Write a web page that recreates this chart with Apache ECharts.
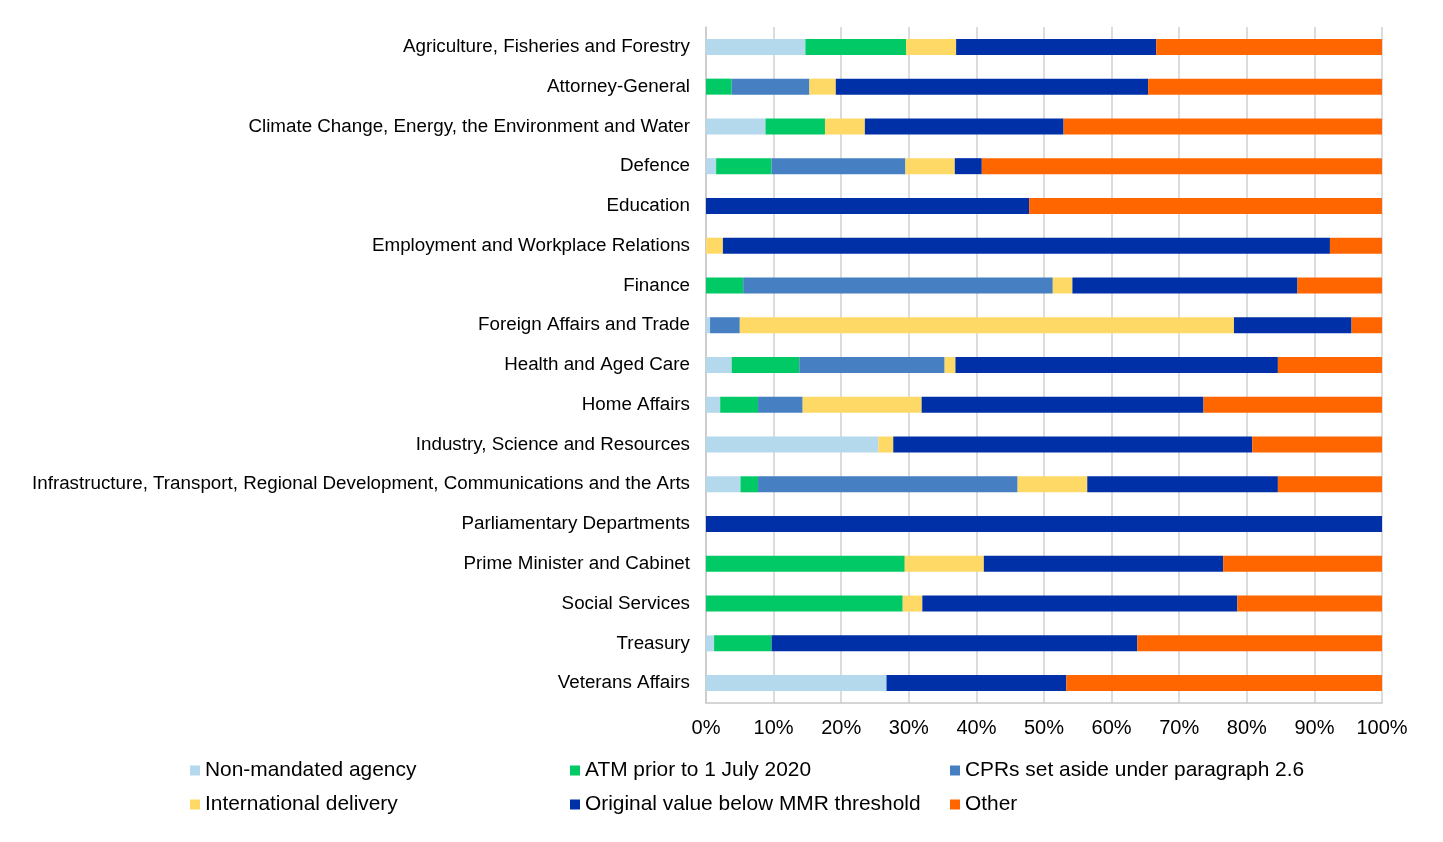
<!DOCTYPE html>
<html lang="en">
<head>
    <meta charset="UTF-8">
    <title>Procurement exemptions by portfolio</title>
    <script src="https://cdn.jsdelivr.net/npm/echarts@6/dist/echarts.min.js"></script>
    <style>
        html, body { margin: 0; padding: 0; background: #fff; }
    </style>
</head>
<body>
<div id="main" style="width: 1443px;height: 842px;"></div>
<script>
    // portfolios, top to bottom
    var categories = [
        'Agriculture, Fisheries and Forestry',
        'Attorney-General',
        'Climate Change, Energy, the Environment and Water',
        'Defence',
        'Education',
        'Employment and Workplace Relations',
        'Finance',
        'Foreign Affairs and Trade',
        'Health and Aged Care',
        'Home Affairs',
        'Industry, Science and Resources',
        'Infrastructure, Transport, Regional Development, Communications and the Arts',
        'Parliamentary Departments',
        'Prime Minister and Cabinet',
        'Social Services',
        'Treasury',
        'Veterans Affairs'
    ];

    // share of each reason (%), same order as categories
    var nonMandated = [14.7, 0, 8.8, 1.5, 0, 0, 0, 0.6, 3.8, 2.1, 25.5, 5.1, 0, 0, 0, 1.2, 26.7];
    var atmPrior    = [14.9, 3.8, 8.8, 8.2, 0, 0, 5.5, 0, 10.0, 5.6, 0, 2.6, 0, 29.4, 29.1, 8.5, 0];
    var cprsAside   = [0, 11.5, 0, 19.8, 0, 0, 45.8, 4.4, 21.5, 6.6, 0, 38.4, 0, 0, 0, 0, 0];
    var intlDeliv   = [7.4, 3.9, 5.9, 7.3, 0, 2.5, 2.9, 73.1, 1.6, 17.6, 2.2, 10.3, 0, 11.7, 2.9, 0, 0];
    var belowMmr    = [29.6, 46.2, 29.4, 4.0, 47.8, 89.8, 33.3, 17.4, 47.7, 41.7, 53.1, 28.2, 100, 35.4, 46.6, 54.1, 26.6];
    var other       = [33.4, 34.6, 47.1, 59.2, 52.2, 7.7, 12.5, 4.5, 15.4, 26.4, 19.2, 15.4, 0, 23.5, 21.4, 36.2, 46.7];

    var xTicks = [0, 10, 20, 30, 40, 50, 60, 70, 80, 90, 100];

    var seriesNames = [
        'Non-mandated agency',
        'ATM prior to 1 July 2020',
        'CPRs set aside under paragraph 2.6',
        'International delivery',
        'Original value below MMR threshold',
        'Other'
    ];
    var seriesValues = [nonMandated, atmPrior, cprsAside, intlDeliv, belowMmr, other];
    var colors = ['#B4D8EC', '#00C965', '#4680C2', '#FFD966', '#0030A8', '#FF6600'];

    // legend laid out in 3 columns x 2 rows
    var legendPos = [
        {left: 190, top: 760}, {left: 570, top: 760}, {left: 950, top: 760},
        {left: 190, top: 794}, {left: 570, top: 794}, {left: 950, top: 794}
    ];

    var myChart = echarts.init(document.getElementById('main'));

    var seriesData = [];
    var legends = [];
    for (var i = 0; i < seriesNames.length; i++) {
        seriesData.push({
            name: seriesNames[i],
            type: 'bar',
            stack: 'total',
            barWidth: 16,
            itemStyle: { color: colors[i] },
            emphasis: { disabled: true },
            data: seriesValues[i]
        });
        legends.push({
            data: [seriesNames[i]],
            left: legendPos[i].left,
            top: legendPos[i].top,
            icon: 'rect',
            itemWidth: 10,
            itemHeight: 10,
            itemGap: 0,
            padding: 0,
            selectedMode: false,
            textStyle: {
                fontFamily: 'Liberation Sans, Arial, sans-serif',
                fontSize: 20.9,
                color: '#000',
                padding: [0, 0, 0, 0]
            }
        });
    }

    var option = {
        animation: false,
        legend: legends,
        grid: {
            left: 706,
            top: 27,
            width: 676,
            height: 676,
            containLabel: false
        },
        xAxis: {
            type: 'value',
            min: xTicks[0],
            max: xTicks[xTicks.length - 1],
            interval: 10,
            axisLine: { show: true, lineStyle: { color: '#C8C8C8', width: 1.5 } },
            axisTick: { show: false },
            splitLine: { show: true, lineStyle: { color: '#D0D0D0', width: 1.5 } },
            axisLabel: {
                margin: 15,
                fontFamily: 'Liberation Sans, Arial, sans-serif',
                fontSize: 20,
                color: '#000',
                formatter: function (value) {
                    return value + '%';
                }
            }
        },
        yAxis: {
            type: 'category',
            inverse: true,
            data: categories,
            axisLine: { show: true, lineStyle: { color: '#C8C8C8', width: 1.5 } },
            axisTick: { show: false },
            axisLabel: {
                margin: 16,
                fontFamily: 'Liberation Sans, Arial, sans-serif',
                fontSize: 18.8,
                color: '#000'
            }
        },
        series: seriesData
    };

    myChart.setOption(option);
</script>
</body>
</html>
